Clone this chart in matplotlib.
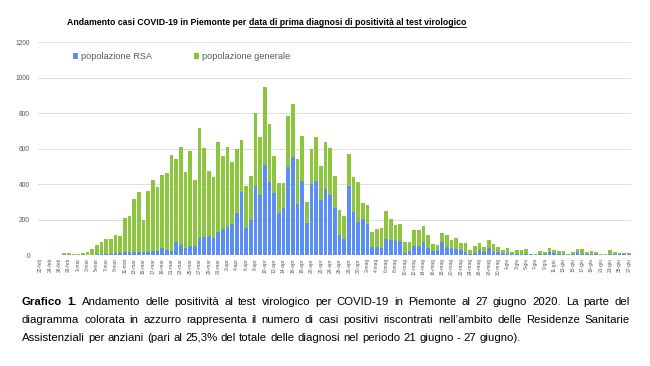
import pandas as pd
import matplotlib
matplotlib.use("Agg")
import matplotlib.pyplot as plt
from matplotlib.lines import Line2D

# Casi giornalieri (22-feb -> 27-giu 2020)
inizio = "2020-02-22"
mesi = {2: "feb", 3: "mar", 4: "apr", 5: "mag", 6: "giu"}

popolazione_rsa = [
    0, 0, 0, 0, 0, 0, 0, 0, 0, 0, 0, 2, 5, 6, 8, 8, 10, 10, 15, 18,
    17, 17, 17, 19, 23, 25, 40, 28, 25, 72, 56, 40, 53, 49, 97, 100, 110, 98, 132, 149,
    156, 178, 235, 355, 152, 197, 388, 336, 507, 414, 351, 238, 264, 499, 553, 287, 420, 182, 399, 419,
    311, 373, 336, 263, 113, 92, 388, 241, 188, 201, 173, 45, 45, 38, 93, 84, 82, 78, 12, 22,
    49, 52, 74, 38, 24, 26, 74, 45, 40, 36, 26, 19, 9, 14, 30, 16, 38, 18, 17, 11,
    13, 8, 8, 6, 9, 4, 2, 6, 5, 17, 11, 8, 5, 3, 5, 15, 9, 4, 6, 5,
    2, 2, 8, 5, 4, 4, 4,
]
popolazione_generale = [
    0, 0, 0, 0, 0, 13, 13, 4, 4, 11, 18, 30, 52, 69, 81, 83, 105, 96, 195, 202,
    298, 339, 180, 341, 398, 358, 409, 437, 540, 470, 554, 426, 534, 376, 617, 506, 366, 344, 504, 408,
    455, 349, 365, 296, 240, 247, 412, 327, 441, 327, 210, 171, 142, 284, 301, 256, 250, 115, 200, 247,
    191, 263, 270, 182, 139, 131, 179, 200, 223, 91, 111, 86, 103, 114, 153, 121, 85, 100, 59, 49,
    90, 88, 90, 74, 36, 29, 51, 70, 44, 58, 42, 47, 18, 36, 40, 31, 45, 46, 31, 18,
    27, 7, 19, 21, 27, 5, 3, 16, 14, 24, 17, 14, 17, 5, 13, 21, 23, 11, 17, 13,
    5, 4, 20, 12, 9, 9, 9,
]

giorni = pd.date_range(inizio, periods=len(popolazione_rsa), freq="D")
etichette = [f"{d.day}-{mesi[d.month]}" for d in giorni]

blu = "#5a8ef2"
verde = "#8cc63f"
grigio = "#595959"
plt.rcParams["font.family"] = ["Liberation Sans", "DejaVu Sans"]

fig = plt.figure(figsize=(6.5, 3.66), dpi=100)
ax = fig.add_axes([0.059, 0.303, 0.912, 0.582])

x = range(len(giorni))
ax.bar(x, popolazione_rsa, width=0.78, color=blu, label="popolazione RSA", zorder=3)
ax.bar(x, popolazione_generale, width=0.78, bottom=popolazione_rsa, color=verde,
       label="popolazione generale", zorder=3)

ax.set_xlim(-0.5, len(giorni) - 0.5)
ax.set_ylim(0, 1200)
ax.set_yticks(range(0, 1201, 200))
ax.yaxis.grid(True, color="#d9d9d9", linewidth=0.6, zorder=0)
ax.set_xticks(list(x)[::2])
ax.set_xticklabels(etichette[::2], rotation=90, fontsize=3.6, color=grigio)
ax.tick_params(axis="y", labelsize=4.8, labelcolor=grigio, length=0, pad=6)
ax.tick_params(axis="x", length=0, pad=2)
for s in ax.spines.values():
    s.set_visible(False)

ax.legend(loc="upper left", bbox_to_anchor=(0.045, 0.99), ncol=2, frameon=False,
          fontsize=6.6, labelcolor=grigio, handlelength=0.55, handleheight=0.55,
          handletextpad=0.3, columnspacing=4.6)

# Titolo con parte sottolineata
y_tit = 0.933
t1 = fig.text(0.103, y_tit, "Andamento casi COVID-19 in Piemonte per ", fontsize=6.3,
              fontweight="bold", va="baseline", ha="left")
t2 = ax.annotate("data di prima diagnosi di positività al test virologico", xy=(1, 0),
                 xycoords=t1, va="bottom", ha="left", fontsize=6.3, fontweight="bold",
                 annotation_clip=False)

fig.canvas.draw()
renderer = fig.canvas.get_renderer()
W, H = fig.bbox.width, fig.bbox.height
bb = t2.get_window_extent(renderer)
y_line = (y_tit * H - 2.0) / H
fig.add_artist(Line2D([bb.x0 / W, bb.x1 / W], [y_line, y_line], color="black",
                      linewidth=0.6, transform=fig.transFigure))

# Didascalia giustificata
righe = [
    "Grafico 1. Andamento delle positività al test virologico per COVID-19 in Piemonte al 27 giugno 2020. La parte del",
    "diagramma colorata in azzurro rappresenta il numero di casi positivi riscontrati nell’ambito delle Residenze Sanitarie",
    "Assistenziali per anziani (pari al 25,3% del totale delle diagnosi nel periodo 21 giugno - 27 giugno).",
]
x_sx, x_dx = 22, 630
y_righe = [305, 323, 341]
fs = 8.2

for n, (riga, yp) in enumerate(zip(righe, y_righe)):
    parole = riga.split(" ")
    testi = []
    for k, p in enumerate(parole):
        peso = "bold" if (n == 0 and k < 2) else "normal"
        t = fig.text(0, 1 - yp / H, p, fontsize=fs, fontweight=peso, va="baseline", ha="left")
        testi.append(t)
    larg = [t.get_window_extent(renderer).width for t in testi]
    if n < 2:
        spazio = (x_dx - x_sx - sum(larg)) / (len(parole) - 1)
    else:
        spazio = fs * 100 / 72 * 0.28
    pos = x_sx
    for t, w in zip(testi, larg):
        t.set_x(pos / W)
        pos += w + spazio

fig.savefig("out.png", dpi=100, facecolor="white")
